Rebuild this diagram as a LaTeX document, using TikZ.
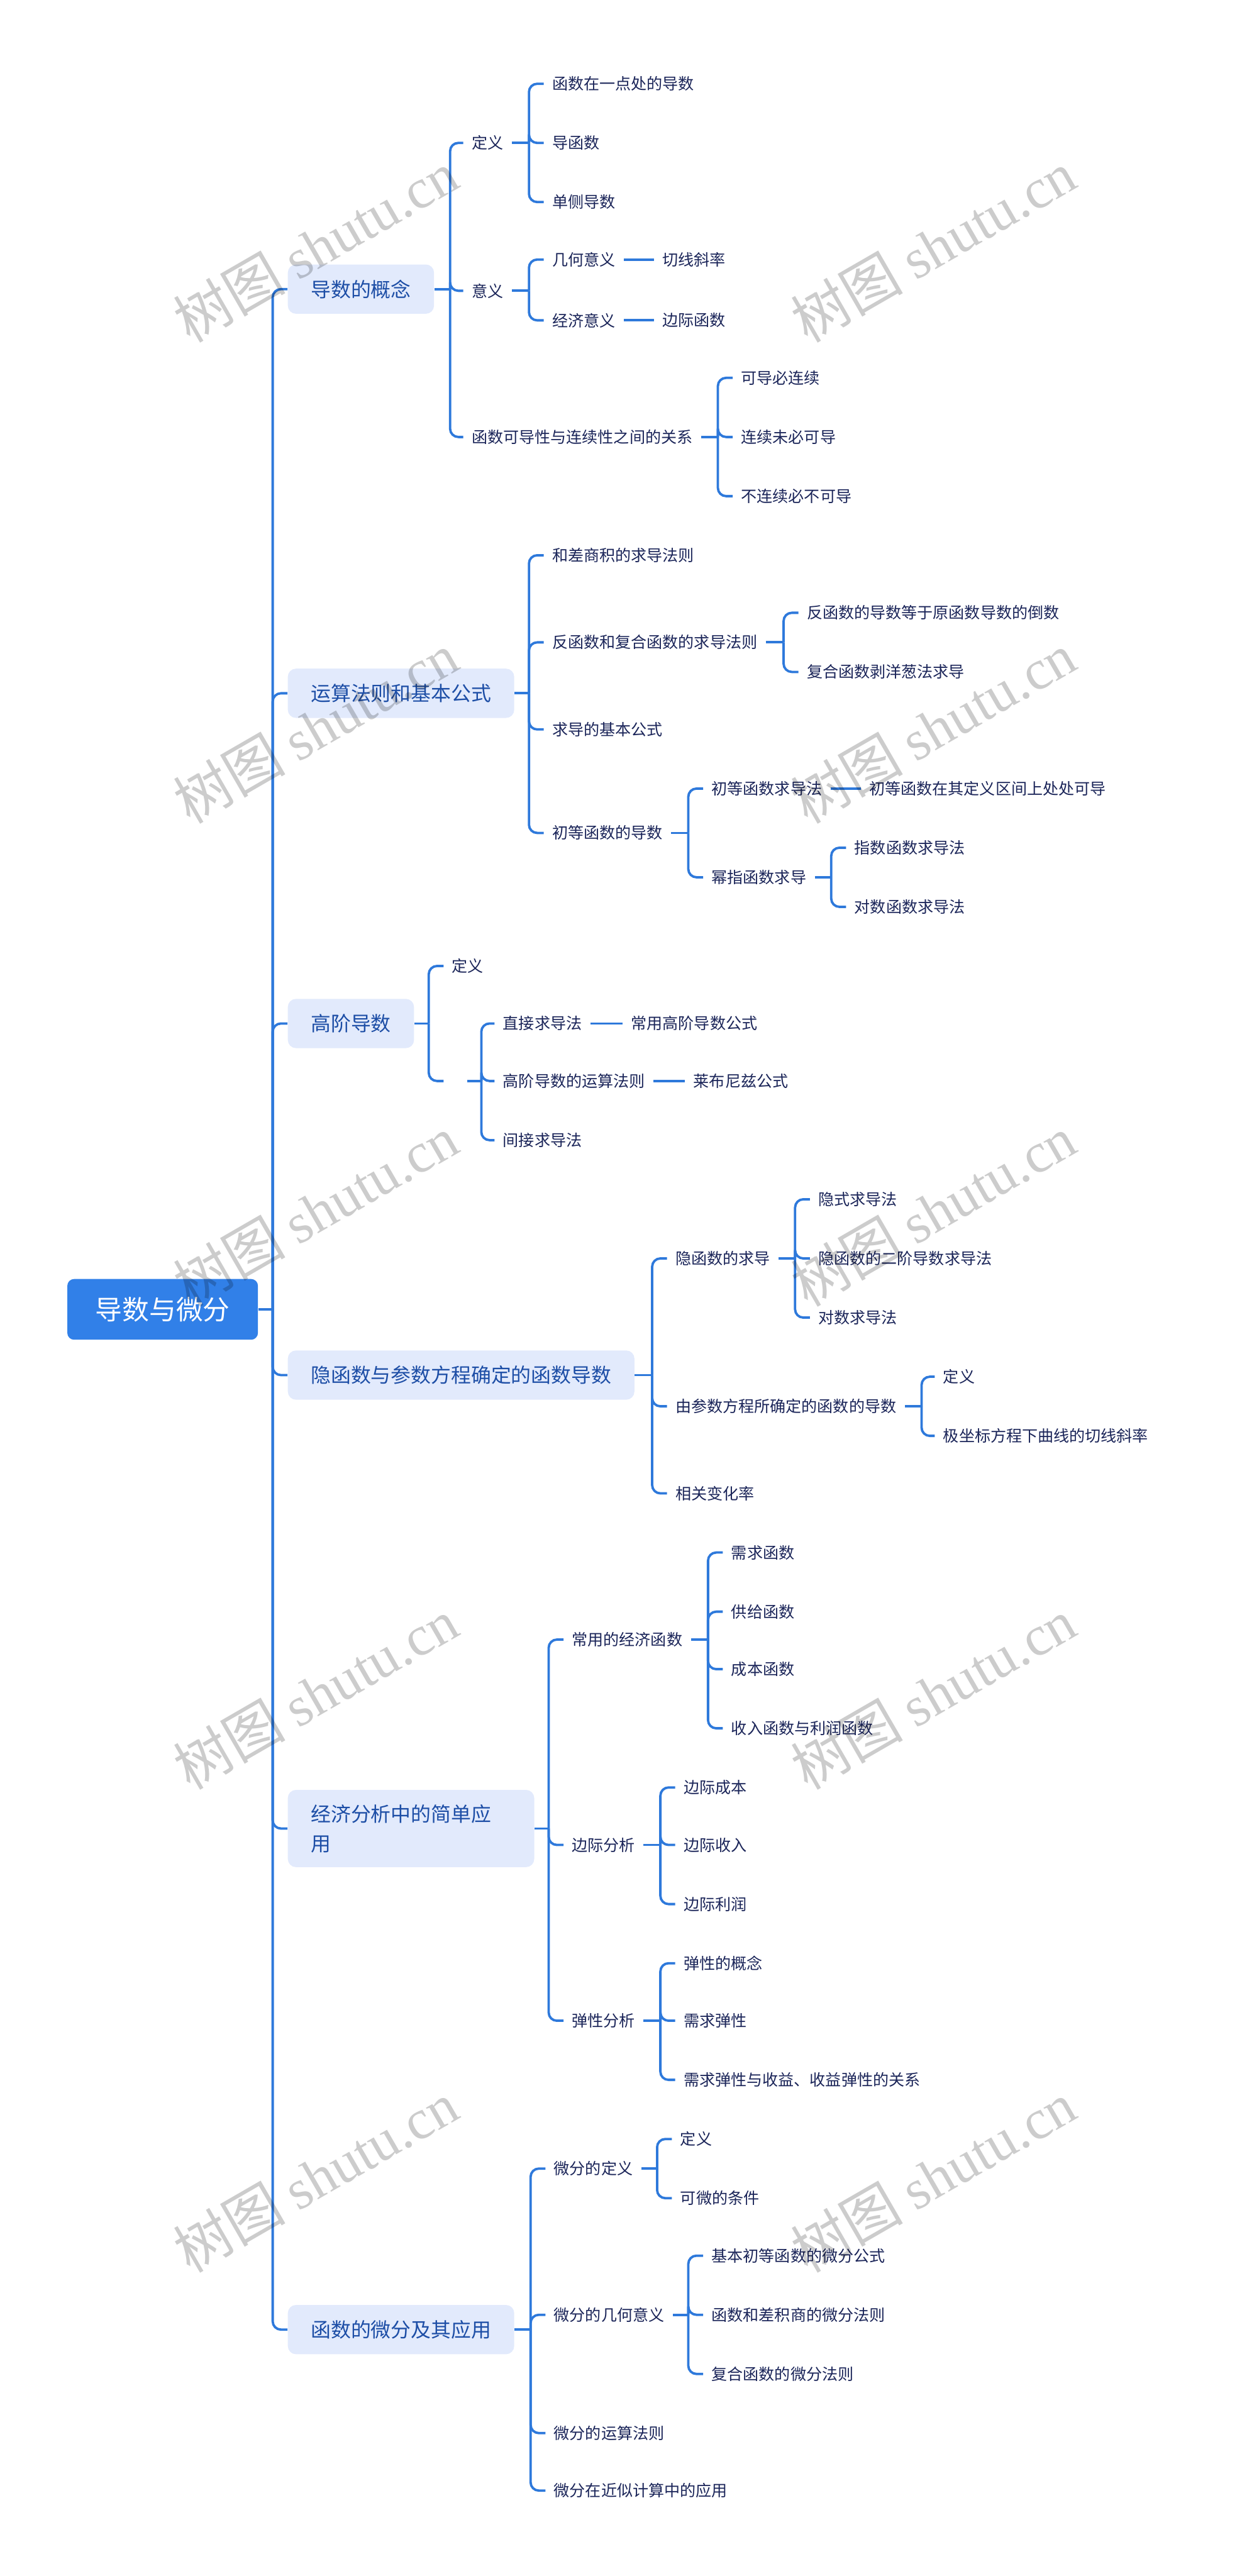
\documentclass[tikz,border=0pt]{standalone}
\usepackage{fontspec}
\setmainfont{Noto Sans CJK SC}
\newfontfamily\wmlatin{Liberation Serif}
\usepackage{xcolor}
\usepackage{tikz}
\definecolor{linkblue}{HTML}{2E79DB}
\definecolor{rootblue}{HTML}{3180E8}
\definecolor{topicfill}{HTML}{E2EAFC}
\definecolor{topicink}{HTML}{1D4EA6}
\definecolor{leafink}{HTML}{1B2559}
\tikzset{
  rootbox/.style={fill=rootblue, rounded corners=4pt, text=white, minimum width=111.8pt,
    minimum height=35.6pt, inner sep=0pt, font=\fontsize{15.8pt}{18pt}\selectfont},
  topic/.style={anchor=west, fill=topicfill, rounded corners=4.8pt, text=topicink,
    inner xsep=13.5pt, inner ysep=0pt, minimum height=28.9pt, font=\fontsize{11.75pt}{17.3pt}\selectfont},
  leaf/.style={anchor=west, text=leafink, inner xsep=4.8pt, inner ysep=2pt,
    font=\fontsize{9.25pt}{11pt}\selectfont},
  link/.style={draw=linkblue, line width=1.4pt, rounded corners=4.8pt},
  wmark/.style={rotate=30, text=black, text opacity=0.2, inner sep=0pt,
    font=\fontsize{33pt}{36pt}\selectfont},
  every picture/.style={line join=round}
}
\begin{document}
\begin{tikzpicture}[x=0.03386cm, y=-0.03386cm]
  \useasboundingbox (0,0) rectangle (756,1568);

  \node[rootbox] (root) at (99,797) {导数与微分};

  \node[topic] (t1) at (175,176) {导数的概念};
  \node[topic] (t2) at (175,422) {运算法则和基本公式};
  \node[topic] (t3) at (175,623) {高阶导数};
  \node[topic] (t4) at (175,837) {隐函数与参数方程确定的函数导数};
  \node[topic, text width=117.5pt, align=left, minimum height=45.3pt] (t5) at (175,1113) {经济分析中的简单应\\用};
  \node[topic] (t6) at (175,1418) {函数的微分及其应用};

  \node[leaf] (t1a) at (282,87) {定义};
  \node[leaf] (t1b) at (282,177) {意义};
  \node[leaf] (t1c) at (282,266) {函数可导性与连续性之间的关系};
  \node[leaf] (t1a1) at (331,51) {函数在一点处的导数};
  \node[leaf] (t1a2) at (331,87) {导函数};
  \node[leaf] (t1a3) at (331,123) {单侧导数};
  \node[leaf] (t1b1) at (331,158) {几何意义};
  \node[leaf] (t1b2) at (331,195) {经济意义};
  \node[leaf] (t1b1a) at (398,158) {切线斜率};
  \node[leaf] (t1b2a) at (398,195) {边际函数};
  \node[leaf] (t1c1) at (446,230) {可导必连续};
  \node[leaf] (t1c2) at (446,266) {连续未必可导};
  \node[leaf] (t1c3) at (446,302) {不连续必不可导};

  \node[leaf] (t2a) at (331,338) {和差商积的求导法则};
  \node[leaf] (t2b) at (331,391) {反函数和复合函数的求导法则};
  \node[leaf] (t2c) at (331,444) {求导的基本公式};
  \node[leaf] (t2d) at (331,507) {初等函数的导数};
  \node[leaf] (t2b1) at (486,373) {反函数的导数等于原函数导数的倒数};
  \node[leaf] (t2b2) at (486,409) {复合函数剥洋葱法求导};
  \node[leaf] (t2d1) at (428,480) {初等函数求导法};
  \node[leaf] (t2d2) at (428,534) {幂指函数求导};
  \node[leaf] (t2d1a) at (524,480) {初等函数在其定义区间上处处可导};
  \node[leaf] (t2d2a) at (515,516) {指数函数求导法};
  \node[leaf] (t2d2b) at (515,552) {对数函数求导法};

  \node[leaf] (t3a) at (270,588) {定义};
  \node[leaf, minimum width=13.5pt] (t3b) at (270,658) {};
  \node[leaf] (t3b1) at (301,623) {直接求导法};
  \node[leaf] (t3b2) at (301,658) {高阶导数的运算法则};
  \node[leaf] (t3b3) at (301,694) {间接求导法};
  \node[leaf] (t3b1a) at (379,623) {常用高阶导数公式};
  \node[leaf] (t3b2a) at (417,658) {莱布尼兹公式};

  \node[leaf] (t4a) at (406,766) {隐函数的求导};
  \node[leaf] (t4b) at (406,856) {由参数方程所确定的函数的导数};
  \node[leaf] (t4c) at (406,909) {相关变化率};
  \node[leaf] (t4a1) at (493,730) {隐式求导法};
  \node[leaf] (t4a2) at (493,766) {隐函数的二阶导数求导法};
  \node[leaf] (t4a3) at (493,802) {对数求导法};
  \node[leaf] (t4b1) at (569,838) {定义};
  \node[leaf] (t4b2) at (569,874) {极坐标方程下曲线的切线斜率};

  \node[leaf] (t5a) at (343,998) {常用的经济函数};
  \node[leaf] (t5b) at (343,1123) {边际分析};
  \node[leaf] (t5c) at (343,1230) {弹性分析};
  \node[leaf] (t5a1) at (440,945) {需求函数};
  \node[leaf] (t5a2) at (440,981) {供给函数};
  \node[leaf] (t5a3) at (440,1016) {成本函数};
  \node[leaf] (t5a4) at (440,1052) {收入函数与利润函数};
  \node[leaf] (t5b1) at (411,1088) {边际成本};
  \node[leaf] (t5b2) at (411,1123) {边际收入};
  \node[leaf] (t5b3) at (411,1159) {边际利润};
  \node[leaf] (t5c1) at (411,1195) {弹性的概念};
  \node[leaf] (t5c2) at (411,1230) {需求弹性};
  \node[leaf] (t5c3) at (411,1266) {需求弹性与收益、收益弹性的关系};

  \node[leaf] (t6a) at (332,1320) {微分的定义};
  \node[leaf] (t6b) at (332,1409) {微分的几何意义};
  \node[leaf] (t6c) at (332,1481) {微分的运算法则};
  \node[leaf] (t6d) at (332,1516) {微分在近似计算中的应用};
  \node[leaf] (t6a1) at (409,1302) {定义};
  \node[leaf] (t6a2) at (409,1338) {可微的条件};
  \node[leaf] (t6b1) at (428,1373) {基本初等函数的微分公式};
  \node[leaf] (t6b2) at (428,1409) {函数和差积商的微分法则};
  \node[leaf] (t6b3) at (428,1445) {复合函数的微分法则};

  \coordinate (jr) at (166,797);
  \coordinate (jt1) at (274,176);
  \coordinate (jt2) at (322,422);
  \coordinate (jt3) at (261,623);
  \coordinate (jt4) at (397,837);
  \coordinate (jt5) at (334,1113);
  \coordinate (jt6) at (323,1418);
  \coordinate (jt1a) at (322,87);
  \coordinate (jt1b) at (322,177);
  \coordinate (jt1c) at (437,266);
  \coordinate (jt2b) at (477,391);
  \coordinate (jt2d) at (419,507);
  \coordinate (jt2d2) at (506,534);
  \coordinate (jt3b) at (293,658);
  \coordinate (jt4a) at (484,766);
  \coordinate (jt4b) at (561,856);
  \coordinate (jt5a) at (431,998);
  \coordinate (jt5b) at (402,1123);
  \coordinate (jt5c) at (402,1230);
  \coordinate (jt6a) at (400,1320);
  \coordinate (jt6b) at (419,1409);

  \draw[link] (root.east) -- (jr);
  \foreach \c in {t1,t2,t3,t4,t5,t6} \draw[link] (jr) |- (\c.west);

  \draw[link] (t1.east) -- (jt1);
  \foreach \c in {t1a,t1b,t1c} \draw[link] (jt1) |- (\c.west);
  \draw[link] (t1a.east) -- (jt1a);
  \foreach \c in {t1a1,t1a2,t1a3} \draw[link] (jt1a) |- (\c.west);
  \draw[link] (t1b.east) -- (jt1b);
  \foreach \c in {t1b1,t1b2} \draw[link] (jt1b) |- (\c.west);
  \draw[link] (t1b1) -- (t1b1a);
  \draw[link] (t1b2) -- (t1b2a);
  \draw[link] (t1c.east) -- (jt1c);
  \foreach \c in {t1c1,t1c2,t1c3} \draw[link] (jt1c) |- (\c.west);

  \draw[link] (t2.east) -- (jt2);
  \foreach \c in {t2a,t2b,t2c,t2d} \draw[link] (jt2) |- (\c.west);
  \draw[link] (t2b.east) -- (jt2b);
  \foreach \c in {t2b1,t2b2} \draw[link] (jt2b) |- (\c.west);
  \draw[link] (t2d.east) -- (jt2d);
  \foreach \c in {t2d1,t2d2} \draw[link] (jt2d) |- (\c.west);
  \draw[link] (t2d1) -- (t2d1a);
  \draw[link] (t2d2.east) -- (jt2d2);
  \foreach \c in {t2d2a,t2d2b} \draw[link] (jt2d2) |- (\c.west);

  \draw[link] (t3.east) -- (jt3);
  \foreach \c in {t3a,t3b} \draw[link] (jt3) |- (\c.west);
  \draw[link] (t3b.east) -- (jt3b);
  \foreach \c in {t3b1,t3b2,t3b3} \draw[link] (jt3b) |- (\c.west);
  \draw[link] (t3b1) -- (t3b1a);
  \draw[link] (t3b2) -- (t3b2a);

  \draw[link] (t4.east) -- (jt4);
  \foreach \c in {t4a,t4b,t4c} \draw[link] (jt4) |- (\c.west);
  \draw[link] (t4a.east) -- (jt4a);
  \foreach \c in {t4a1,t4a2,t4a3} \draw[link] (jt4a) |- (\c.west);
  \draw[link] (t4b.east) -- (jt4b);
  \foreach \c in {t4b1,t4b2} \draw[link] (jt4b) |- (\c.west);

  \draw[link] (t5.east) -- (jt5);
  \foreach \c in {t5a,t5b,t5c} \draw[link] (jt5) |- (\c.west);
  \draw[link] (t5a.east) -- (jt5a);
  \foreach \c in {t5a1,t5a2,t5a3,t5a4} \draw[link] (jt5a) |- (\c.west);
  \draw[link] (t5b.east) -- (jt5b);
  \foreach \c in {t5b1,t5b2,t5b3} \draw[link] (jt5b) |- (\c.west);
  \draw[link] (t5c.east) -- (jt5c);
  \foreach \c in {t5c1,t5c2,t5c3} \draw[link] (jt5c) |- (\c.west);

  \draw[link] (t6.east) -- (jt6);
  \foreach \c in {t6a,t6b,t6c,t6d} \draw[link] (jt6) |- (\c.west);
  \draw[link] (t6a.east) -- (jt6a);
  \foreach \c in {t6a1,t6a2} \draw[link] (jt6a) |- (\c.west);
  \draw[link] (t6b.east) -- (jt6b);
  \foreach \c in {t6b1,t6b2,t6b3} \draw[link] (jt6b) |- (\c.west);

  % watermark
  \foreach \y [count=\i] in {150,443,737,1031,1325} {
    \node[wmark] (wml\i) at (192,\y) {树图 {\wmlatin shutu.cn}};
    \node[wmark] (wmr\i) at (568,\y) {树图 {\wmlatin shutu.cn}};
  }
\end{tikzpicture}
\end{document}
